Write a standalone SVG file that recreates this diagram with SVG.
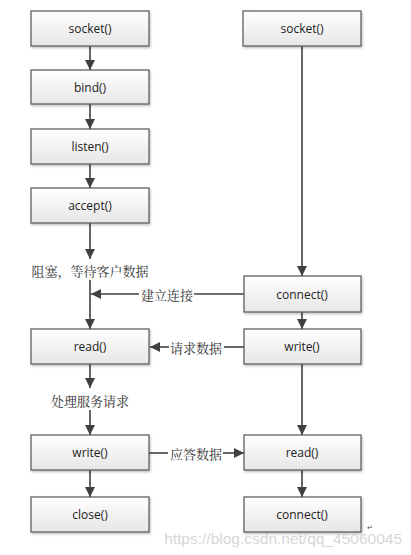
<svg xmlns="http://www.w3.org/2000/svg" width="411" height="555" viewBox="0 0 411 555">
<defs>
<linearGradient id="g" x1="0" y1="0" x2="0" y2="1">
<stop offset="0" stop-color="#ffffff"/>
<stop offset="1" stop-color="#e6e6e6"/>
</linearGradient>
<filter id="sh" x="-10%" y="-10%" width="130%" height="140%">
<feDropShadow dx="1" dy="1.5" stdDeviation="1" flood-color="#000" flood-opacity="0.25"/>
</filter>
<marker id="ah" viewBox="0 0 10 10" refX="10" refY="5" markerWidth="10" markerHeight="10" markerUnits="userSpaceOnUse" orient="auto">
<path d="M0,0 L10,5 L0,10 Z" fill="#404040"/>
</marker>
</defs>
<style>
rect.box{fill:url(#g);stroke:#555;stroke-width:1.2;filter:url(#sh)}
text.t{font-family:"Open Sans","Liberation Sans",sans-serif;font-size:12px;fill:#222;text-anchor:middle;dominant-baseline:central}
text.c{font-family:"Noto Serif CJK SC","Noto Sans CJK SC",serif;font-size:13px;fill:#333;text-anchor:middle;dominant-baseline:central}
line.e{stroke:#404040;stroke-width:1.6}
line.ea{stroke:#404040;stroke-width:1.6;marker-end:url(#ah)}
</style>
<rect width="411" height="555" fill="#fff"/>
<g id="connectors">
<line class="ea" x1="90" y1="46" x2="90" y2="70"/>
<line class="ea" x1="90" y1="104" x2="90" y2="129"/>
<line class="ea" x1="90" y1="164" x2="90" y2="188"/>
<line class="ea" x1="90" y1="223" x2="90" y2="259"/>
<line class="ea" x1="90" y1="280" x2="90" y2="329"/>
<line class="ea" x1="302" y1="46" x2="302" y2="276"/>
<line class="e" x1="244" y1="294" x2="194" y2="294"/>
<line class="ea" x1="139" y1="294" x2="91" y2="294"/>
<line class="ea" x1="302" y1="312" x2="302" y2="329"/>
<line class="e" x1="244" y1="347" x2="224" y2="347"/>
<line class="ea" x1="169" y1="347" x2="150" y2="347"/>
<line class="ea" x1="90" y1="364" x2="90" y2="388"/>
<line class="ea" x1="90" y1="410" x2="90" y2="435"/>
<line class="ea" x1="302" y1="364" x2="302" y2="435"/>
<line class="e" x1="149" y1="453" x2="168" y2="453"/>
<line class="ea" x1="223" y1="453" x2="244" y2="453"/>
<line class="ea" x1="90" y1="470" x2="90" y2="497"/>
<line class="ea" x1="302" y1="470" x2="302" y2="497"/>
<text class="c" x="90" y="270">阻塞，等待客户数据</text>
<text class="c" x="167" y="294">建立连接</text>
<text class="c" x="196" y="347">请求数据</text>
<text class="c" x="90" y="400">处理服务请求</text>
<text class="c" x="196" y="453">应答数据</text>
</g>
<g id="s_socket"><rect class="box" x="31" y="11" width="118" height="35"/><text class="t" x="90" y="28.5">socket()</text></g>
<g id="s_bind"><rect class="box" x="31" y="70" width="118" height="34"/><text class="t" x="90" y="87">bind()</text></g>
<g id="s_listen"><rect class="box" x="31" y="129" width="118" height="35"/><text class="t" x="90" y="146.5">listen()</text></g>
<g id="s_accept"><rect class="box" x="31" y="188" width="118" height="35"/><text class="t" x="90" y="205.5">accept()</text></g>
<g id="s_read"><rect class="box" x="31" y="329" width="118" height="35"/><text class="t" x="90" y="346.5">read()</text></g>
<g id="s_write"><rect class="box" x="31" y="435" width="118" height="35"/><text class="t" x="90" y="452.5">write()</text></g>
<g id="s_close"><rect class="box" x="31" y="497" width="118" height="35"/><text class="t" x="90" y="514.5">close()</text></g>
<g id="c_socket"><rect class="box" x="243" y="11" width="118" height="35"/><text class="t" x="302" y="28.5">socket()</text></g>
<g id="c_connect"><rect class="box" x="244" y="276" width="117" height="36"/><text class="t" x="302" y="294">connect()</text></g>
<g id="c_write"><rect class="box" x="244" y="329" width="117" height="35"/><text class="t" x="302" y="346.5">write()</text></g>
<g id="c_read"><rect class="box" x="244" y="435" width="117" height="35"/><text class="t" x="302" y="452.5">read()</text></g>
<g id="c_connect2"><rect class="box" x="244" y="497" width="117" height="35"/><text class="t" x="302" y="514.5">connect()</text></g>
<text x="367" y="530" font-family="Liberation Sans,sans-serif" font-size="7" fill="#444">↵</text>
<text x="402" y="538" font-family="Liberation Sans,sans-serif" font-size="15.5" fill="#ccc" fill-opacity="0.8" text-anchor="end" dominant-baseline="central">https://blog.csdn.net/qq_45060045</text>
</svg>
